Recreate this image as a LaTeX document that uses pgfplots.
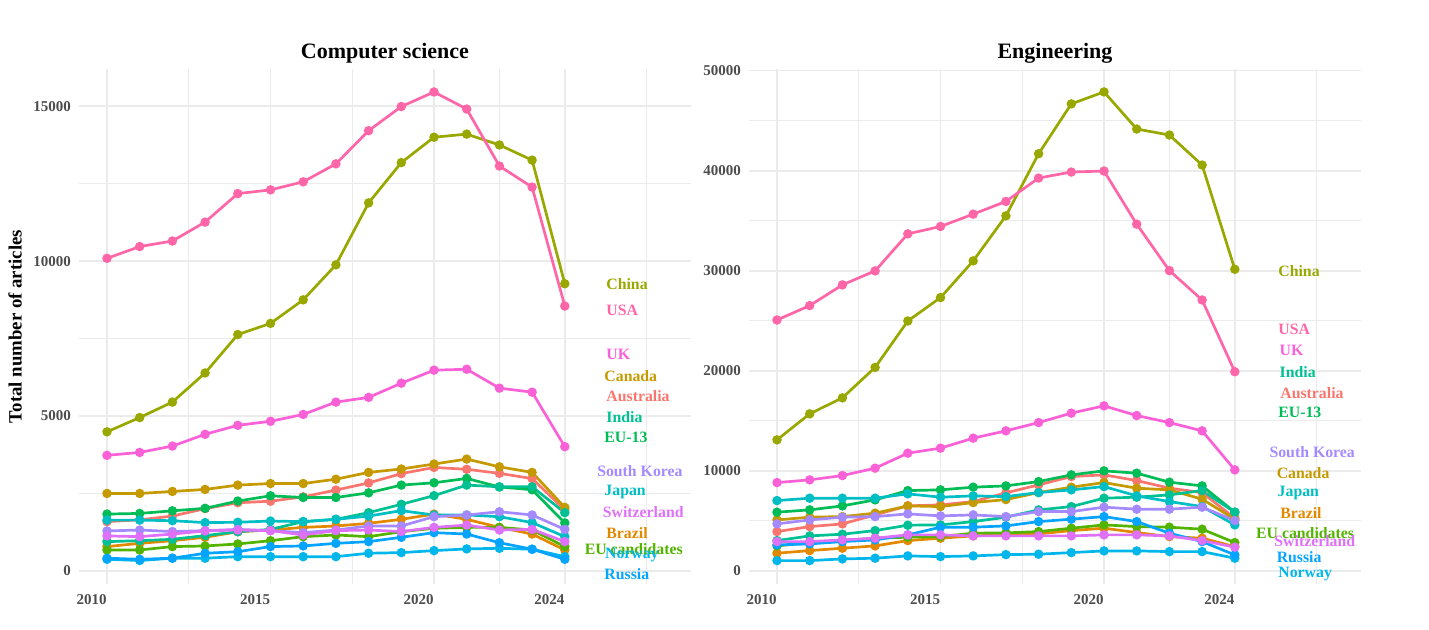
\documentclass[border=0pt]{standalone}
\usepackage{fontspec}
\setmainfont{Liberation Serif}
\usepackage{pgfplots}
\usepackage{pgfplotstable}
\pgfplotsset{compat=1.18}

% ggplot2 hue palette, 14 groups in alphabetical order
\definecolor{cAUS}{HTML}{F8766D}
\definecolor{cBRA}{HTML}{E38900}
\definecolor{cCAN}{HTML}{C49A00}
\definecolor{cCHN}{HTML}{99A800}
\definecolor{cEUC}{HTML}{53B400}
\definecolor{cEUT}{HTML}{00BC56}
\definecolor{cIND}{HTML}{00C094}
\definecolor{cJPN}{HTML}{00BFC4}
\definecolor{cNOR}{HTML}{00B6EB}
\definecolor{cRUS}{HTML}{06A4FF}
\definecolor{cKOR}{HTML}{A58AFF}
\definecolor{cCHE}{HTML}{DF70F8}
\definecolor{cUK}{HTML}{FB61D7}
\definecolor{cUSA}{HTML}{FF66A8}
\definecolor{gridgray}{HTML}{EBEBEB}
\definecolor{tickgray}{HTML}{4D4D4D}

% Computer science articles per year
\pgfplotstableread{
year USA CHN UK CAN AUS EUT IND JPN KOR CHE BRA EUC RUS NOR
2010 10090 4490 3730 2500 1590 1835 945 1640 1290 1130 785 675 410 375
2011 10470 4950 3825 2500 1650 1855 975 1640 1320 1105 890 675 375 335
2012 10650 5450 4030 2565 1770 1940 1020 1620 1270 1190 975 785 410 410
2013 11260 6390 4410 2630 2010 2020 1140 1560 1300 1290 1085 805 570 410
2014 12180 7630 4700 2770 2200 2255 1265 1570 1340 1320 1265 870 620 460
2015 12300 7990 4830 2820 2250 2425 1340 1610 1300 1300 1320 975 785 460
2016 12560 8750 5050 2820 2390 2370 1590 1590 1235 1160 1405 1105 805 460
2017 13140 9880 5450 2960 2610 2370 1665 1665 1320 1300 1450 1160 890 460
2018 14210 11880 5600 3180 2840 2520 1880 1770 1450 1320 1535 1105 945 570
2019 14990 13180 6060 3290 3140 2770 2150 1945 1450 1270 1665 1265 1085 590
2020 15460 14000 6480 3450 3340 2845 2430 1805 1750 1405 1835 1375 1235 655
2021 14910 14100 6510 3610 3280 2985 2770 1805 1805 1480 1665 1405 1190 710
2022 13070 13750 5900 3360 3150 2710 2715 1750 1910 1320 1405 1405 910 730
2023 12390 13260 5770 3180 2980 2620 2715 1560 1805 1340 1190 1320 700 700
2024 8550 9270 4010 2050 1970 1550 1880 1105 1340 945 675 785 375 460
}\cstable

% Engineering articles per year
\pgfplotstableread{
year USA CHN UK CAN AUS EUT IND JPN KOR CHE BRA EUC RUS NOR
2010 25080 13100 8830 5100 3930 5870 3030 7030 4700 2930 1770 2500 2600 1030
2011 26520 15700 9100 5370 4430 6100 3500 7270 5100 2930 2030 2830 2700 1030
2012 28590 17300 9530 5430 4700 6500 3670 7270 5370 3100 2270 3030 2930 1200
2013 29990 20340 10270 5770 5600 7100 4030 7270 5430 3270 2500 3270 3100 1270
2014 33690 24980 11770 6500 6500 8030 4570 7700 5700 3600 3030 3370 3600 1500
2015 34430 27320 12270 6430 6600 8100 4600 7370 5500 3600 3270 3430 4370 1430
2016 35660 30990 13270 6830 6930 8370 4930 7500 5600 3500 3500 3770 4370 1500
2017 36930 35490 14000 7130 7800 8500 5370 7430 5430 3500 3600 3800 4500 1630
2018 39270 41700 14830 7830 8600 8930 6100 7830 5930 3500 3700 3930 4930 1670
2019 39870 46680 15770 8370 9430 9600 6430 8100 5930 3500 4030 4270 5170 1830
2020 39970 47880 16500 8830 9600 10000 7270 8430 6370 3600 4270 4600 5430 2000
2021 34660 44170 15530 8270 9030 9770 7370 7500 6170 3600 3830 4430 4930 2000
2022 30020 43570 14830 8100 8270 8870 7600 6930 6170 3500 3430 4370 3770 1930
2023 27080 40570 14000 7170 7830 8500 8030 6430 6370 3030 3270 4170 2930 1930
2024 19910 30150 10100 5170 5270 5870 5870 4600 5030 2370 2430 2830 1600 1270
}\engtable

\newcommand{\drawseries}[3]{%
  \addplot[color=#3, line width=1.35pt, mark=*, mark size=1.65pt,
    mark options={solid, fill=#3, draw=#3}] table[x=year, y=#2] {#1};}
\newcommand{\clabel}[4]{%
  \node[anchor=west, inner sep=0pt, text=#3,
    font=\bfseries\fontsize{7.9}{9}\selectfont] at (axis cs:#1,#2) {#4};}
\newcommand{\allseries}[1]{%
  \drawseries{#1}{AUS}{cAUS}
  \drawseries{#1}{BRA}{cBRA}
  \drawseries{#1}{CAN}{cCAN}
  \drawseries{#1}{CHN}{cCHN}
  \drawseries{#1}{EUC}{cEUC}
  \drawseries{#1}{EUT}{cEUT}
  \drawseries{#1}{IND}{cIND}
  \drawseries{#1}{JPN}{cJPN}
  \drawseries{#1}{NOR}{cNOR}
  \drawseries{#1}{RUS}{cRUS}
  \drawseries{#1}{KOR}{cKOR}
  \drawseries{#1}{CHE}{cCHE}
  \drawseries{#1}{UK}{cUK}
  \drawseries{#1}{USA}{cUSA}}

\pgfplotsset{
  panel/.style={
    scale only axis,
    width=305.75pt, height=257.75pt,
    anchor=south west,
    xmin=2009.15, xmax=2027.85,
    xtick={2010,2015,2020,2024},
    minor xtick={2012.5,2017.5,2022,2026.5},
    scaled ticks=false,
    xmajorgrids, ymajorgrids, xminorgrids, yminorgrids,
    major grid style={draw=gridgray, line width=0.8pt},
    minor grid style={draw=gridgray, line width=0.45pt},
    axis line style={draw=none},
    major tick length=0pt, minor tick length=0pt,
    tick style={draw=none},
    /pgf/number format/assume math mode=true,
    /pgf/number format/1000 sep={},
    ticklabel style={font=\bfseries\fontsize{7.5}{8}\selectfont, text=tickgray},
    xticklabel style={anchor=north east, inner sep=0pt, yshift=-5pt},
    yticklabel style={anchor=east, inner sep=0pt, xshift=-4pt},
    title style={font=\bfseries\fontsize{11}{13}\selectfont, text=black,
      at={(0.5,1)}, anchor=south, inner sep=0pt, yshift=-3.5pt},
    clip=false,
  }
}

\begin{document}
\begin{tikzpicture}
\path[use as bounding box] (0,0) rectangle (714.5pt,314.5pt);

\node[rotate=90, font=\bfseries\fontsize{9.4}{11}\selectfont]
  at (7.5pt,151.25pt) {Total number of articles};

% Computer science
\begin{axis}[panel, at={(39.6pt,22.5pt)},
  title={Computer science},
  ymin=-423, ymax=16218,
  ytick={0,5000,10000,15000},
  minor ytick={2500,7500,12500},
]
\allseries{\cstable}
\clabel{2025.26}{9258}{cCHN}{China}
\clabel{2025.26}{8419}{cUSA}{USA}
\clabel{2025.26}{7000}{cUK}{UK}
\clabel{2025.2}{6290}{cCAN}{Canada}
\clabel{2025.26}{5645}{cAUS}{Australia}
\clabel{2025.26}{4968}{cIND}{India}
\clabel{2025.2}{4323}{cEUT}{EU-13}
\clabel{2024.98}{3226}{cKOR}{South Korea}
\clabel{2025.2}{2548}{cJPN}{Japan}
\clabel{2025.15}{1903}{cCHE}{Switzerland}
\clabel{2025.26}{1226}{cBRA}{Brazil}
\clabel{2024.6}{710}{cEUC}{EU candidates}
\clabel{2025.22}{516}{cNOR}{Norway}
\clabel{2025.2}{-97}{cRUS}{Russia}
\end{axis}

% Engineering
\begin{axis}[panel, at={(374.6pt,22.5pt)},
  title={Engineering},
  ymin=-1309, ymax=50219,
  ytick={0,10000,20000,30000,40000,50000},
  minor ytick={5000,15000,25000,35000,45000},
]
\allseries{\engtable}
\clabel{2025.32}{30000}{cCHN}{China}
\clabel{2025.32}{24100}{cUSA}{USA}
\clabel{2025.36}{22000}{cUK}{UK}
\clabel{2025.36}{19900}{cIND}{India}
\clabel{2025.38}{17800}{cAUS}{Australia}
\clabel{2025.32}{15800}{cEUT}{EU-13}
\clabel{2025.05}{11900}{cKOR}{South Korea}
\clabel{2025.27}{9800}{cCAN}{Canada}
\clabel{2025.3}{7800}{cJPN}{Japan}
\clabel{2025.38}{5800}{cBRA}{Brazil}
\clabel{2024.64}{3800}{cEUC}{EU candidates}
\clabel{2025.2}{3000}{cCHE}{Switzerland}
\clabel{2025.27}{1400}{cRUS}{Russia}
\clabel{2025.32}{-300}{cNOR}{Norway}
\end{axis}
\end{tikzpicture}
\end{document}
